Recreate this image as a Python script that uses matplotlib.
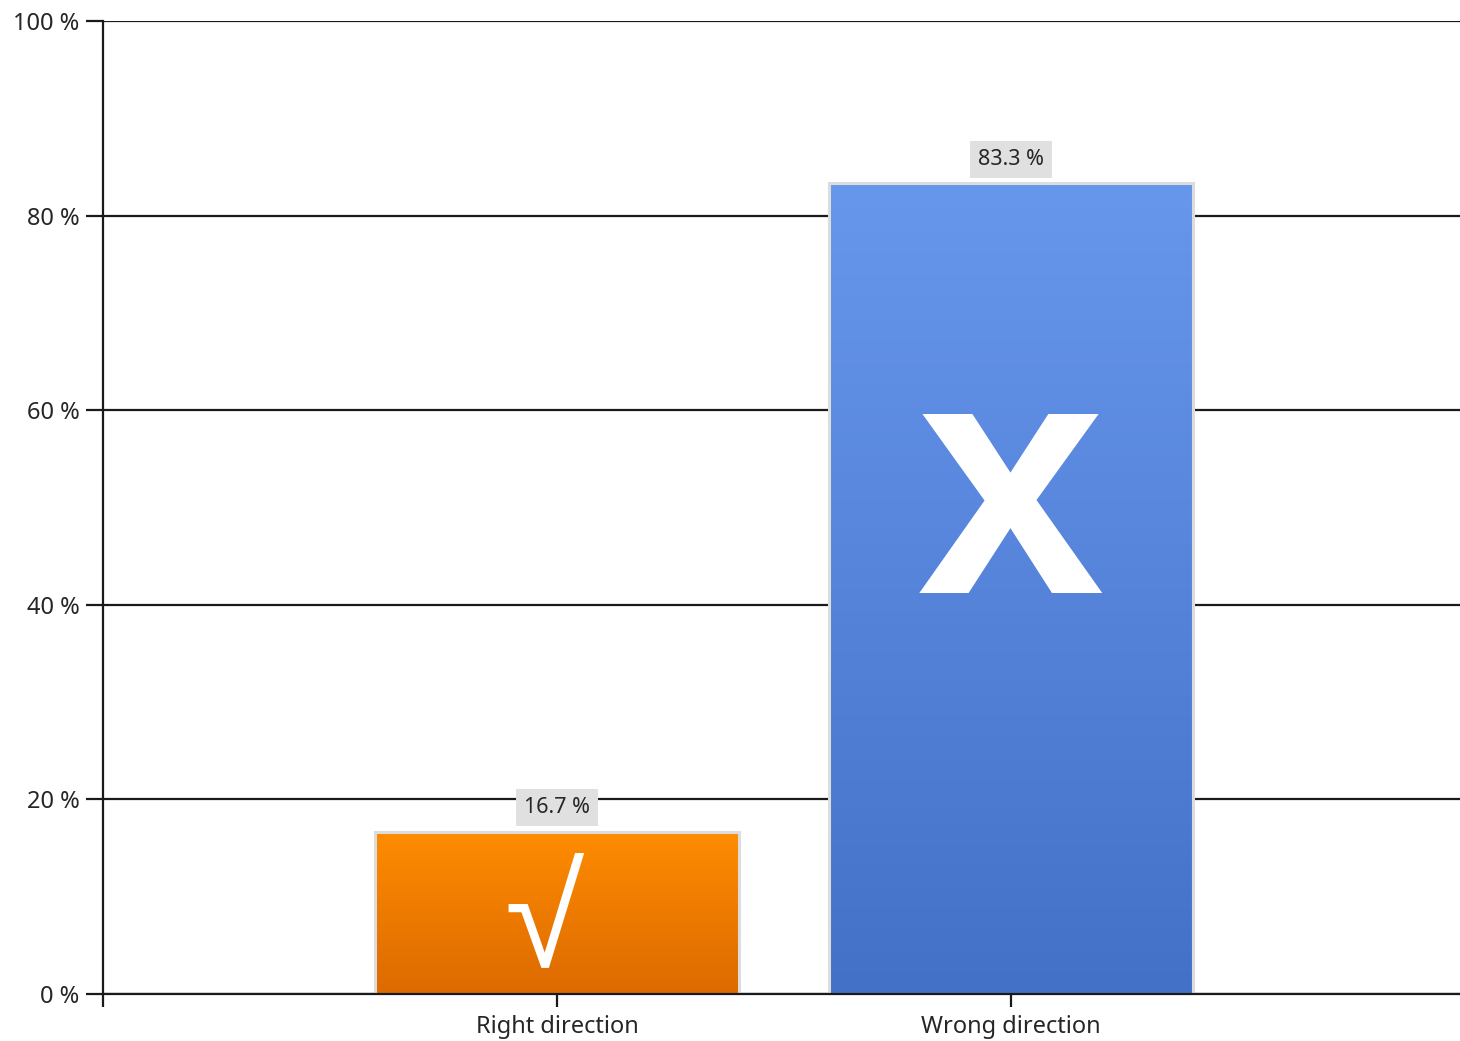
import numpy as np
import matplotlib
matplotlib.use("Agg")
import matplotlib.pyplot as plt
from matplotlib.colors import LinearSegmentedColormap

# Data
categories = ["Right direction", "Wrong direction"]
values = [16.7, 83.3]
value_labels = ["16.7 %", "83.3 %"]
yticks = [0, 20, 40, 60, 80, 100]
ytick_labels = ["0 %", "20 %", "40 %", "60 %", "80 %", "100 %"]

# Style
top_colors = ["#FF8C00", "#6797EC"]
bottom_colors = ["#DC6A00", "#4371C8"]
text_color = "#262626"
plt.rcParams["font.family"] = ["Noto Sans", "DejaVu Sans"]

fig = plt.figure(figsize=(14.6, 10.41), dpi=100)
ax = fig.add_axes([103 / 1460, 47 / 1041, 1362 / 1460, 973 / 1041])

x = np.arange(len(categories))
width = 0.8
bars = ax.bar(x, values, width=width, facecolor="none", edgecolor="#DCDCDC",
              linewidth=2.2, zorder=3)

# gradient fill for every bar, clipped to the bar rectangle
grad = np.linspace(0, 1, 256).reshape(-1, 1)
for bar, top, bottom in zip(bars, top_colors, bottom_colors):
    cmap = LinearSegmentedColormap.from_list("g", [bottom, top])
    x0 = bar.get_x()
    h = bar.get_height()
    im = ax.imshow(grad, cmap=cmap, aspect="auto", origin="lower",
                   extent=(x0, x0 + bar.get_width(), 0, h), zorder=2)
    im.set_clip_path(bar)

# value labels in grey boxes
for xi, v, lab in zip(x, values, value_labels):
    ax.annotate(lab, (xi, v), xytext=(0, 17.5), textcoords="offset points",
                ha="center", va="center", fontsize=15.5, color=text_color,
                bbox=dict(boxstyle="square,pad=0.38", fc="#E0E0E0", ec="none"))

# big white symbols inside the bars
ax.text(-0.028, 6.6, "√", ha="center", va="center", fontsize=104, color="white",
        family="Liberation Sans", zorder=4)
ax.text(1.0, 53.8, "x", ha="center", va="center_baseline", fontsize=243,
        color="white", family="Liberation Sans", fontweight="bold", zorder=4)

ax.set_xlim(-1, 2)
ax.set_ylim(0, 100)
ax.set_yticks(yticks)
ax.set_yticklabels(ytick_labels)
ax.set_xticks([-1, 0, 1])
ax.set_xticklabels([""] + categories)

ax.grid(axis="y", color="#1a1a1a", linewidth=1.6)
ax.set_axisbelow(True)
for s in ["top", "right"]:
    ax.spines[s].set_visible(False)
for s in ["left", "bottom"]:
    ax.spines[s].set_linewidth(1.6)
    ax.spines[s].set_color("#1a1a1a")
ax.spines["bottom"].set_zorder(5)

ax.tick_params(axis="y", length=12, width=1.6, color="#1a1a1a", pad=5,
               labelsize=17, labelcolor=text_color)
ax.tick_params(axis="x", length=9, width=1.6, color="#1a1a1a", pad=6,
               labelsize=17, labelcolor=text_color)

fig.savefig("out.png", dpi=100)
